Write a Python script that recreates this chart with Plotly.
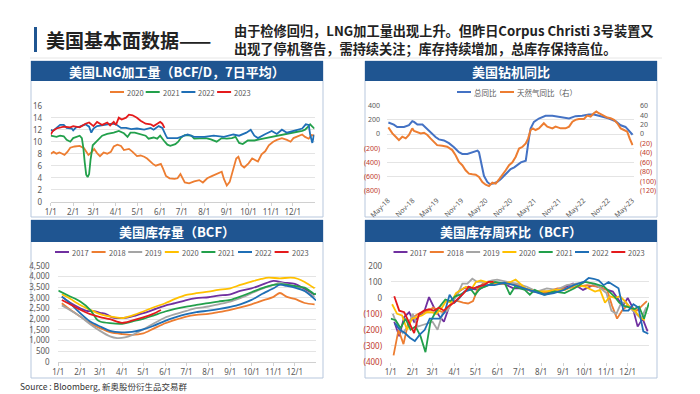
import plotly.graph_objects as go

# ===================== DATA =====================
month_tick_dates = ["2022-01-01", "2022-02-01", "2022-03-01", "2022-04-01", "2022-05-01", "2022-06-01",
                    "2022-07-01", "2022-08-01", "2022-09-01", "2022-10-01", "2022-11-01", "2022-12-01"]
month_tick_labels = ["1/1", "2/1", "3/1", "4/1", "5/1", "6/1", "7/1", "8/1", "9/1", "10/1", "11/1", "12/1"]

# ---- US LNG feedgas (BCF/D, 7d avg) ----
lng_names = ["2020", "2021", "2022", "2023"]
lng_colors = ["#ED7D31", "#22A04B", "#1F6FB6", "#E41A1C"]
lng_2020_dates = ["01-01", "01-05", "01-09", "01-13", "01-17", "01-20", "01-24", "01-28", "02-03", "02-10", "02-16",
                  "02-19", "02-22", "02-26", "03-02", "03-06", "03-10", "03-15", "03-20", "03-25", "03-29", "04-03",
                  "04-08", "04-12", "04-19", "04-24", "04-30", "05-05", "05-10", "05-14", "05-18", "05-22", "05-26",
                  "05-30", "06-02", "06-05", "06-09", "06-14", "06-21", "06-25", "06-29", "07-05", "07-11", "07-18",
                  "07-25", "07-30", "08-05", "08-12", "08-21", "08-25", "08-28", "09-01", "09-05", "09-10", "09-14",
                  "09-17", "09-21", "09-25", "10-01", "10-06", "10-10", "10-14", "10-19", "10-24", "10-29", "11-04",
                  "11-09", "11-16", "11-23", "11-28", "12-02", "12-07", "12-14", "12-18", "12-23", "12-27", "12-31"]
lng_2020_vals = [8.0, 8.3, 8.0, 8.2, 8.0, 7.8, 8.3, 9.0, 9.2, 9.3, 8.9,
                 8.4, 7.8, 8.2, 8.8, 8.1, 7.6, 8.2, 8.0, 8.3, 9.2, 9.5,
                 9.3, 8.6, 8.8, 8.3, 7.6, 7.7, 7.5, 7.2, 6.7, 6.3, 6.0,
                 6.2, 6.3, 5.5, 4.3, 3.9, 3.8, 3.9, 4.6, 3.2, 3.05, 3.4,
                 3.6, 3.2, 3.9, 4.3, 4.7, 5.0, 3.8, 2.7, 3.3, 5.3, 7.2,
                 7.5, 6.1, 5.7, 6.4, 7.2, 6.9, 6.7, 7.9, 8.4, 9.4, 10.0,
                 10.3, 10.6, 10.3, 10.0, 10.6, 10.8, 11.2, 10.8, 10.5, 11.1, 11.0]
lng_2021_dates = ["01-01", "01-05", "01-09", "01-14", "01-19", "01-23", "01-28", "02-01", "02-05", "02-10", "02-13",
                  "02-15", "02-17", "02-19", "02-21", "02-23", "02-25", "02-28", "03-05", "03-09", "03-13", "03-20",
                  "03-29", "04-05", "04-12", "04-17", "04-21", "04-27", "05-04", "05-12", "05-16", "05-23", "05-28",
                  "06-01", "06-06", "06-11", "06-15", "06-22", "06-26", "06-30", "07-05", "07-14", "07-18", "07-27",
                  "08-03", "08-10", "08-18", "08-25", "09-01", "09-08", "09-13", "09-18", "09-23", "09-30", "10-09",
                  "10-16", "10-24", "11-01", "11-07", "11-14", "11-21", "12-02", "12-09", "12-14", "12-18", "12-23",
                  "12-25", "12-28", "12-31"]
lng_2021_vals = [11.0, 10.9, 10.8, 11.0, 10.9, 10.3, 10.0, 10.6, 10.8, 11.0, 10.6,
                 9.0, 6.5, 4.5, 4.1, 4.6, 7.0, 9.4, 10.0, 10.5, 11.0, 11.3,
                 11.5, 11.8, 11.4, 10.8, 11.5, 11.5, 11.3, 11.0, 10.5, 10.7, 10.5,
                 11.0, 10.2, 9.5, 9.3, 9.6, 10.0, 10.7, 11.1, 11.0, 10.5, 10.6,
                 10.6, 10.4, 10.0, 10.6, 10.5, 10.6, 10.8, 9.8, 9.6, 10.2, 10.2,
                 10.4, 10.6, 10.8, 11.0, 11.2, 11.3, 11.6, 11.7, 11.8, 12.0, 12.6,
                 12.9, 12.5, 12.2]
lng_2022_dates = ["01-01", "01-04", "01-09", "01-14", "01-19", "01-23", "01-30", "02-01", "02-05", "02-10", "02-18",
                  "02-23", "02-26", "03-01", "03-06", "03-13", "03-20", "03-27", "04-01", "04-08", "04-15", "04-22",
                  "04-30", "05-10", "05-19", "05-23", "05-30", "06-04", "06-09", "06-11", "06-25", "06-30", "07-03",
                  "07-09", "07-18", "08-01", "08-14", "08-28", "09-10", "09-18", "09-28", "10-04", "10-09", "10-14",
                  "10-23", "11-02", "11-09", "11-16", "11-23", "12-01", "12-07", "12-14", "12-19", "12-23", "12-25",
                  "12-28", "12-30", "12-31"]
lng_2022_vals = [12.0, 11.8, 12.3, 12.8, 12.8, 12.3, 12.2, 11.9, 12.4, 12.5, 12.9,
                 12.5, 11.5, 12.2, 12.6, 12.7, 12.8, 13.0, 12.9, 12.3, 12.3, 12.1,
                 12.2, 12.0, 12.3, 12.0, 12.6, 12.3, 11.0, 10.6, 10.6, 10.8, 11.0,
                 11.2, 10.8, 10.8, 11.0, 10.8, 11.2, 11.0, 11.5, 12.0, 11.0, 10.6,
                 11.2, 11.8, 11.3, 12.0, 11.5, 11.8, 11.9, 12.2, 12.9, 12.8, 11.2,
                 9.8, 11.0, 11.0]
lng_2023_dates = ["01-01", "01-04", "01-09", "01-19", "01-28", "02-01", "02-10", "02-18", "02-23", "03-01", "03-06",
                  "03-13", "03-20", "03-24", "03-29", "04-01", "04-05", "04-09", "04-15", "04-19", "04-24", "04-30",
                  "05-05", "05-12", "05-19", "05-23", "05-28", "06-01", "06-04", "06-07"]
lng_2023_vals = [11.2, 11.8, 12.2, 12.5, 12.4, 12.6, 12.4, 13.0, 13.2, 12.6, 13.3,
                 12.8, 13.2, 12.7, 13.3, 12.8, 14.0, 13.7, 14.0, 14.5, 14.4, 14.0,
                 13.5, 13.0, 12.9, 12.6, 13.0, 13.3, 13.0, 12.3]

# ---- US rig count YoY ----
rig_names = ["总同比", "天然气同比（右）"]
rig_colors = ["#4472C4", "#ED7D31"]
rig_tick_dates = ["2018-05-01", "2018-11-01", "2019-05-01", "2019-11-01", "2020-05-01", "2020-11-01",
                  "2021-05-01", "2021-11-01", "2022-05-01", "2022-11-01", "2023-05-01"]
rig_tick_labels = ["May-18", "Nov-18", "May-19", "Nov-19", "May-20", "Nov-20",
                   "May-21", "Nov-21", "May-22", "Nov-22", "May-23"]
rig_total_dates = ["2018-05-04", "2018-06-14", "2018-07-09", "2018-08-29", "2018-10-05", "2018-10-30", "2018-11-12",
                   "2018-12-07", "2019-01-14", "2019-02-08", "2019-03-15", "2019-04-22", "2019-05-17", "2019-06-24",
                   "2019-07-31", "2019-09-07", "2019-10-14", "2019-11-08", "2019-12-16", "2020-01-10", "2020-02-04",
                   "2020-03-01", "2020-03-12", "2020-03-30", "2020-04-18", "2020-05-13", "2020-06-02", "2020-07-02",
                   "2020-07-27", "2020-08-21", "2020-09-16", "2020-10-10", "2020-11-04", "2020-12-01", "2020-12-20",
                   "2021-01-19", "2021-02-25", "2021-03-08", "2021-03-20", "2021-04-02", "2021-04-27", "2021-06-03",
                   "2021-07-23", "2021-09-12", "2021-11-01", "2021-12-20", "2022-01-15", "2022-03-04", "2022-04-23",
                   "2022-06-12", "2022-07-19", "2022-08-26", "2022-10-03", "2022-11-10", "2022-12-29", "2023-02-05",
                   "2023-03-13", "2023-04-07", "2023-05-05"]
rig_total_vals = [162, 133, 100, 100, 124, 181, 171,
                  133, 133, 86, 29, -43, -76, -90,
                  -128, -186, -257, -281, -281, -267, -248,
                  -233, -257, -447, -590, -676, -709, -695,
                  -676, -638, -590, -533, -495, -471, -447,
                  -400, -376, -257, -67, 76, 171, 219,
                  257, 257, 243, 229, 219, 252, 257,
                  276, 276, 257, 243, 219, 181, 124,
                  100, 52, -10]
rig_gas_dates = ["2018-05-04", "2018-06-03", "2018-06-28", "2018-07-22", "2018-08-16", "2018-09-11", "2018-10-05",
                 "2018-10-18", "2018-10-30", "2018-11-12", "2018-12-07", "2019-01-01", "2019-01-26", "2019-02-20",
                 "2019-03-15", "2019-04-10", "2019-05-04", "2019-06-11", "2019-07-18", "2019-08-25", "2019-09-19",
                 "2019-10-14", "2019-11-08", "2019-12-03", "2019-12-28", "2020-01-22", "2020-02-17", "2020-03-12",
                 "2020-04-06", "2020-05-01", "2020-05-26", "2020-06-20", "2020-07-15", "2020-08-09", "2020-09-03",
                 "2020-09-28", "2020-10-23", "2020-11-17", "2020-12-12", "2021-01-06", "2021-02-01", "2021-02-25",
                 "2021-03-15", "2021-04-02", "2021-04-19", "2021-05-09", "2021-06-03", "2021-06-28", "2021-07-10",
                 "2021-08-05", "2021-09-12", "2021-10-06", "2021-11-13", "2021-12-20", "2022-01-15", "2022-02-09",
                 "2022-03-04", "2022-03-29", "2022-05-06", "2022-05-31", "2022-06-25", "2022-07-19", "2022-08-07",
                 "2022-08-26", "2022-09-20", "2022-10-28", "2022-11-22", "2022-12-17", "2023-01-11", "2023-02-05",
                 "2023-03-02", "2023-03-26", "2023-04-13", "2023-05-05"]
rig_gas_vals = [14, 1.4, -5.7, -12.8, -5.7, -9.2, -2.1,
                5, 12, 6.4, 3.6, 1.4, 2.8, -2.1,
                -9.2, -16.4, -23.5, -24.9, -27, -34, -44.8,
                -59, -66, -76.8, -83.9, -85.3, -86, -91,
                -101.7, -107.4, -110.2, -103, -105, -96, -87.5,
                -76.8, -66, -60, -48, -30.6, -27, -20,
                -9.2, 8.5, 12, 8.5, 12, 19, 22.8,
                15.6, 12, 15.6, 12, 12, 15.6, 26,
                30, 32, 32, 39, 37, 44, 47.6,
                44, 40.5, 34.8, 33.4, 30, 22.8, 12,
                8.5, 5, -9.2, -23.5]
rig_left_ticks = [-800, -600, -400, -200, 0, 200, 400]
rig_left_labels = ["(800)", "(600)", "(400)", "(200)", "0", "200", "400"]
rig_right_ticks = [-120, -100, -80, -60, -40, -20, 0, 20, 40, 60]
rig_right_labels = ["(120)", "(100)", "(80)", "(60)", "(40)", "(20)", "0", "20", "40", "60"]

# ---- US storage (BCF) ----
stor_names = ["2017", "2018", "2019", "2020", "2021", "2022", "2023"]
stor_colors = ["#7030A0", "#ED7D31", "#A5A5A5", "#FFC000", "#22A04B", "#1F6FB6", "#E41A1C"]
stor_2017_dates = ["01-06", "01-15", "02-01", "02-10", "02-20", "03-01", "03-10", "03-18", "03-25", "04-01", "04-10",
                   "04-20", "05-01", "05-15", "06-01", "06-15", "07-01", "07-15", "08-01", "08-15", "09-01", "09-15",
                   "10-01", "10-15", "11-01", "11-15", "12-01", "12-15", "12-29"]
stor_2017_vals = [3060, 2830, 2515, 2390, 2380, 2300, 2230, 2080, 2050, 2050, 2080,
                  2170, 2280, 2440, 2640, 2750, 2900, 2985, 3030, 3110, 3170, 3330,
                  3450, 3610, 3800, 3720, 3660, 3420, 3150]
stor_2018_dates = ["01-06", "01-15", "02-01", "02-15", "03-01", "03-15", "04-01", "04-15", "05-01", "05-15", "06-01",
                   "06-15", "07-01", "07-15", "08-01", "08-15", "09-01", "09-15", "10-01", "10-15", "11-01", "11-10",
                   "11-20", "12-01", "12-15", "12-29"]
stor_2018_vals = [2750, 2515, 2125, 1810, 1580, 1390, 1300, 1260, 1330, 1545, 1810,
                  1970, 2125, 2200, 2250, 2330, 2440, 2550, 2700, 2860, 3050, 3230,
                  3050, 2950, 2760, 2700]
stor_2019_dates = ["01-06", "01-15", "02-01", "02-15", "03-01", "03-15", "03-25", "04-05", "04-15", "05-01", "05-15",
                   "06-01", "06-15", "07-01", "07-15", "08-01", "08-15", "09-01", "09-15", "10-01", "10-15", "11-01",
                   "11-10", "11-20", "12-01", "12-15", "12-29"]
stor_2019_vals = [2650, 2480, 2125, 1765, 1450, 1190, 1110, 1140, 1250, 1520, 1780,
                  2080, 2235, 2390, 2515, 2595, 2700, 2830, 2985, 3220, 3420, 3610,
                  3720, 3620, 3560, 3330, 3050]
stor_2020_dates = ["01-06", "01-15", "02-01", "02-15", "03-01", "03-15", "04-01", "04-15", "05-01", "05-15", "06-01",
                   "06-15", "07-01", "07-15", "08-01", "08-15", "09-01", "09-15", "10-01", "10-15", "10-25", "11-10",
                   "11-25", "12-05", "12-15", "12-29"]
stor_2020_vals = [3170, 3015, 2670, 2440, 2235, 2125, 2050, 2170, 2360, 2550, 2750,
                  2950, 3140, 3220, 3300, 3375, 3450, 3610, 3765, 3890, 3950, 3920,
                  3950, 3900, 3750, 3450]
stor_2021_dates = ["01-01", "01-15", "02-01", "02-15", "02-25", "03-01", "03-15", "04-01", "04-15", "05-01", "05-15",
                   "06-01", "06-15", "07-01", "07-15", "08-01", "08-15", "09-01", "09-15", "10-01", "10-15", "11-01",
                   "11-15", "12-01", "12-15", "12-29", "12-31"]
stor_2021_vals = [3345, 3110, 2830, 2440, 1970, 1890, 1810, 1780, 1890, 2015, 2170,
                  2360, 2480, 2595, 2670, 2750, 2830, 2905, 3060, 3265, 3450, 3610,
                  3640, 3560, 3480, 3180, 3200]
stor_2022_dates = ["01-06", "01-15", "02-01", "02-15", "03-01", "03-15", "04-01", "04-15", "05-01", "05-15", "06-01",
                   "06-15", "07-01", "07-15", "08-01", "08-15", "09-01", "09-15", "10-01", "10-15", "11-01", "11-10",
                   "11-20", "12-01", "12-15", "12-31"]
stor_2022_vals = [3060, 2830, 2280, 1890, 1655, 1450, 1380, 1400, 1520, 1680, 1920,
                  2080, 2235, 2330, 2400, 2470, 2580, 2700, 2905, 3170, 3450, 3620,
                  3560, 3480, 3320, 2880]
stor_2023_dates = ["01-06", "01-15", "02-01", "02-15", "03-01", "03-15", "04-01", "04-15", "05-01", "05-15", "05-26"]
stor_2023_vals = [2900, 2750, 2440, 2235, 2100, 2000, 1830, 1930, 2080, 2250, 2430]

# ---- US storage weekly change (BCF) ----
wk_2017_dates = ["01-06", "01-13", "01-20", "01-27", "02-03", "02-10", "02-17", "02-24", "03-03", "03-10", "03-17",
                 "03-24", "03-31", "04-07", "04-14", "04-21", "04-28", "05-05", "05-12", "05-19", "05-26", "06-09",
                 "06-23", "07-07", "07-21", "08-04", "08-18", "09-01", "09-15", "09-29", "10-13", "10-27", "11-10",
                 "11-24", "12-01", "12-08", "12-15", "12-22", "12-29"]
wk_2017_vals = [-150, -240, -120, -90, -150, -110, -90, 5, -60, -110, -150,
                -60, -10, 40, 60, 70, 55, 50, 70, 80, 90, 90,
                60, 60, 40, 30, 40, 60, 90, 50, 80, 60, 40,
                -50, 0, -60, -180, -130, -210]
wk_2018_dates = ["01-05", "01-12", "01-19", "01-26", "02-02", "02-09", "02-16", "02-23", "03-02", "03-09", "03-16",
                 "03-23", "03-30", "04-06", "04-13", "04-20", "04-27", "05-04", "05-11", "05-18", "06-01", "06-15",
                 "06-29", "07-13", "07-27", "08-10", "08-24", "09-07", "09-21", "10-05", "10-19", "11-02", "11-09",
                 "11-16", "11-23", "11-30", "12-07", "12-14", "12-21", "12-28"]
wk_2018_vals = [-360, -200, -290, -150, -120, -100, -90, -80, -60, -80, -90,
                -70, -20, -20, -30, -35, -20, 60, 90, 100, 90, 90,
                80, 50, 40, 40, 60, 60, 70, 80, 70, 50, -50,
                -130, -80, -50, -60, -80, -50, -20]
wk_2019_dates = ["01-04", "01-11", "01-18", "01-25", "02-01", "02-08", "02-15", "02-22", "03-01", "03-08", "03-15",
                 "03-22", "03-29", "04-05", "04-12", "04-19", "04-26", "05-03", "05-10", "05-17", "05-24", "05-31",
                 "06-14", "06-28", "07-12", "07-26", "08-09", "08-23", "09-06", "09-20", "10-04", "10-18", "11-01",
                 "11-08", "11-15", "11-22", "11-29", "12-06", "12-13", "12-20", "12-27"]
wk_2019_vals = [-100, -180, -220, -180, -100, -180, -170, -160, -150, -200, -100,
                -80, -20, 20, 90, 90, 120, 100, 100, 100, 110, 115,
                100, 90, 70, 40, 60, 50, 80, 90, 100, 80, 30,
                -80, -100, -30, -30, -70, -100, -130, -60]
wk_2020_dates = ["01-03", "01-10", "01-17", "01-24", "01-31", "02-07", "02-14", "02-21", "02-28", "03-06", "03-13",
                 "03-20", "03-27", "04-03", "04-10", "04-17", "04-24", "05-01", "05-08", "05-15", "05-22", "06-05",
                 "06-19", "06-26", "07-10", "07-24", "08-07", "08-21", "09-04", "09-18", "10-02", "10-16", "10-23",
                 "10-30", "11-06", "11-13", "11-20", "11-27", "12-04", "12-11", "12-18", "12-25"]
wk_2020_vals = [-40, -100, -110, -200, -130, -120, -110, -90, -90, -100, -70,
                -20, -30, 30, 50, 70, 50, 100, 110, 100, 100, 90,
                100, 115, 60, 40, 40, 50, 50, 80, 70, 40, 50,
                -30, 10, 0, 10, -20, -60, -80, -120, -140]
wk_2021_dates = ["01-01", "01-08", "01-15", "01-22", "01-29", "02-05", "02-12", "02-19", "02-26", "03-05", "03-12",
                 "03-19", "03-26", "04-02", "04-09", "04-16", "04-23", "04-30", "05-07", "05-14", "05-28", "06-11",
                 "06-18", "06-25", "07-09", "07-16", "07-23", "08-06", "08-20", "09-03", "09-17", "10-01", "10-15",
                 "10-29", "11-05", "11-12", "11-19", "11-26", "12-03", "12-10", "12-17", "12-24", "12-31"]
wk_2021_vals = [-130, -140, -190, -130, -200, -180, -240, -340, -150, -90, -50,
                -10, -20, 10, 20, 40, 60, 20, 60, 70, 100, 90,
                20, 70, 50, 20, 50, 20, 40, 30, 60, 100, 90,
                70, 40, 10, -30, -50, -60, -70, -55, -130, -30]
wk_2022_dates = ["01-07", "01-14", "01-21", "01-28", "02-04", "02-11", "02-18", "02-25", "03-04", "03-11", "03-18",
                 "03-25", "04-01", "04-08", "04-15", "04-22", "04-29", "05-06", "05-13", "05-27", "06-10", "06-24",
                 "07-08", "07-22", "08-05", "08-19", "09-02", "09-16", "09-23", "09-30", "10-07", "10-14", "10-21",
                 "10-28", "11-04", "11-11", "11-18", "11-25", "12-02", "12-09", "12-16", "12-23", "12-30"]
wk_2022_vals = [-160, -200, -220, -250, -270, -230, -200, -130, -130, -130, -90,
                20, -30, 0, 40, 50, 60, 75, 80, 80, 95, 80,
                60, 40, 20, 30, 50, 80, 90, 100, 125, 120, 110,
                80, 100, 80, 60, -80, -80, -40, -60, -210, -225]
wk_2023_dates = ["01-06", "01-13", "01-20", "01-27", "02-03", "02-10", "02-17", "02-24", "03-03", "03-10", "03-17",
                 "03-24", "03-31", "04-07", "04-14", "04-21", "04-28", "05-05", "05-12", "05-19", "05-26"]
wk_2023_vals = [10, -80, -90, -150, -220, -100, -80, -70, -80, -60, -80,
                -50, -30, 0, 30, 70, 60, 70, 80, 100, 100]
wk_ticks = [-400, -300, -200, -100, 0, 100, 200]
wk_labels = ["(400)", "(300)", "(200)", "(100)", "0", "100", "200"]

# ===================== STYLE / LAYOUT =====================
W, H = 700, 394
def fx(x):
    return x / W
def fy(y):
    return 1 - y / H

BAR = "#1F5591"
TICKC = "#595959"
NEG = "#C0392B"
GRID = "#E4E4E4"
FNT = "Noto Sans, Liberation Sans, sans-serif"
CJK = "Noto Sans CJK SC, Noto Sans, sans-serif"

def red_neg(labels):
    return [f'<span style="color:{NEG}">{t}</span>' if t.startswith("(") else t for t in labels]

def d22(dates):
    return ["2022-" + d for d in dates]

fig = go.Figure()

# ---- panel 1: LNG ----
for name, color, dts, vals in zip(lng_names, lng_colors,
                                  [lng_2020_dates, lng_2021_dates, lng_2022_dates, lng_2023_dates],
                                  [lng_2020_vals, lng_2021_vals, lng_2022_vals, lng_2023_vals]):
    fig.add_trace(go.Scatter(x=d22(dts), y=vals, mode="lines", name=name, xaxis="x", yaxis="y",
                             line=dict(color=color, width=1.8), showlegend=False))

# ---- panel 2: rigs ----
fig.add_trace(go.Scatter(x=rig_total_dates, y=rig_total_vals, mode="lines", name=rig_names[0],
                         xaxis="x2", yaxis="y2", line=dict(color=rig_colors[0], width=2), showlegend=False))
fig.add_trace(go.Scatter(x=rig_gas_dates, y=rig_gas_vals, mode="lines", name=rig_names[1],
                         xaxis="x2", yaxis="y5", line=dict(color=rig_colors[1], width=2), showlegend=False))

# ---- panel 3: storage ----
stor_dates = [stor_2017_dates, stor_2018_dates, stor_2019_dates, stor_2020_dates, stor_2021_dates,
              stor_2022_dates, stor_2023_dates]
stor_vals = [stor_2017_vals, stor_2018_vals, stor_2019_vals, stor_2020_vals, stor_2021_vals,
             stor_2022_vals, stor_2023_vals]
for name, color, dts, vals in zip(stor_names, stor_colors, stor_dates, stor_vals):
    fig.add_trace(go.Scatter(x=d22(dts), y=vals, mode="lines", name=name, xaxis="x3", yaxis="y3",
                             line=dict(color=color, width=1.8, shape="spline", smoothing=0.8), showlegend=False))

# ---- panel 4: weekly change ----
wk_dates = [wk_2017_dates, wk_2018_dates, wk_2019_dates, wk_2020_dates, wk_2021_dates, wk_2022_dates, wk_2023_dates]
wk_vals = [wk_2017_vals, wk_2018_vals, wk_2019_vals, wk_2020_vals, wk_2021_vals, wk_2022_vals, wk_2023_vals]
for name, color, dts, vals in zip(stor_names, stor_colors, wk_dates, wk_vals):
    fig.add_trace(go.Scatter(x=d22(dts), y=vals, mode="lines", name=name, xaxis="x4", yaxis="y4",
                             line=dict(color=color, width=1.8), showlegend=False))

tickfont = dict(family=FNT, size=8, color=TICKC)
smallfont = dict(family=FNT, size=7, color=TICKC)
xcommon = dict(type="date", showgrid=False, tickfont=tickfont, ticks="outside", ticklen=3, automargin=False,
               tickcolor="#D0D0D0", showline=True, linecolor="#D0D0D0", linewidth=1, zeroline=False)
ycommon = dict(showgrid=True, gridcolor=GRID, gridwidth=0.8, zeroline=False, tickfont=tickfont, automargin=False,
               ticks="outside", ticklen=6, tickcolor="rgba(0,0,0,0)", showline=False)

fig.update_layout(
    width=W, height=H, margin=dict(l=0, r=0, t=0, b=0),
    paper_bgcolor="white", plot_bgcolor="white", showlegend=False,
    font=dict(family=FNT, size=8, color=TICKC),
    xaxis=dict(xcommon, domain=[fx(50.7), fx(314.5)], anchor="y",
               range=["2022-01-01", "2022-12-31"], tickvals=month_tick_dates, ticktext=month_tick_labels),
    yaxis=dict(ycommon, domain=[fy(201.7), fy(105.7)], anchor="x", range=[0, 16], dtick=2),
    xaxis2=dict(xcommon, domain=[fx(386.5), fx(633.5)], anchor="y2", showline=False, ticklen=2,
                tickcolor="rgba(0,0,0,0)", tickfont=smallfont,
                range=["2018-04-20", "2023-05-12"], tickvals=rig_tick_dates, ticktext=rig_tick_labels,
                tickangle=-45),
    yaxis2=dict(ycommon, domain=[fy(190.7), fy(105.7)], anchor="x2", range=[-800, 400], tickfont=smallfont,
                ticklen=4, tickvals=rig_left_ticks, ticktext=red_neg(rig_left_labels)),
    yaxis5=dict(ycommon, overlaying="y2", side="right", anchor="x2", range=[-120, 60], showgrid=False,
                tickfont=smallfont, ticklen=4,
                tickvals=rig_right_ticks, ticktext=red_neg(rig_right_labels)),
    xaxis3=dict(xcommon, domain=[fx(58.3), fx(316)], anchor="y3",
                range=["2022-01-01", "2022-12-31"], tickvals=month_tick_dates, ticktext=month_tick_labels),
    yaxis3=dict(ycommon, domain=[fy(361.7), fy(266)], anchor="x3", range=[0, 4500], dtick=500,
                tickformat=",d"),
    xaxis4=dict(xcommon, domain=[fx(390.7), fx(649)], anchor="y4", showline=False,
                range=["2022-01-01", "2022-12-31"], tickvals=month_tick_dates, ticktext=month_tick_labels),
    yaxis4=dict(ycommon, domain=[fy(361.7), fy(266)], anchor="x4", range=[-400, 200],
                tickvals=wk_ticks, ticktext=red_neg(wk_labels)),
)

shapes = []
annos = []

# header
shapes.append(dict(type="rect", xref="paper", yref="paper", x0=fx(34), x1=fx(37), y0=fy(52), y1=fy(27),
                   fillcolor=BAR, line=dict(width=0)))
shapes.append(dict(type="line", xref="paper", yref="paper", x0=fx(30), x1=fx(662), y0=fy(58), y1=fy(58),
                   line=dict(color="#E6E6E6", width=1)))
annos.append(dict(text="<b>美国基本面数据——</b>", x=fx(44), y=fy(40), xref="paper", yref="paper",
                  xanchor="left", yanchor="middle", showarrow=False,
                  font=dict(family=CJK, size=19, color="#222222")))
annos.append(dict(text="<b>由于检修回归，LNG加工量出现上升。但昨日Corpus Christi 3号装置又</b>", x=fx(232), y=fy(30),
                  xref="paper", yref="paper", xanchor="left", yanchor="middle", showarrow=False,
                  font=dict(family=CJK, size=13.2, color="#222222")))
annos.append(dict(text="<b>出现了停机警告，需持续关注；库存持续增加，总库存保持高位。</b>", x=fx(232), y=fy(49),
                  xref="paper", yref="paper", xanchor="left", yanchor="middle", showarrow=False,
                  font=dict(family=CJK, size=13.2, color="#222222")))

# panels
panels = [
    (31, 323, 61, 217, 81, "美国LNG加工量（BCF/D，7日平均）"),
    (365, 657, 61, 217, 81, "美国钻机同比"),
    (31, 323, 220, 378, 242, "美国库存量（BCF）"),
    (365, 657, 220, 378, 242, "美国库存周环比（BCF）"),
]
for x0, x1, y0, y1, ybar, title in panels:
    shapes.append(dict(type="rect", xref="paper", yref="paper", x0=fx(x0), x1=fx(x1), y0=fy(y1), y1=fy(y0),
                       line=dict(color="#B7C7DD", width=1), fillcolor="rgba(0,0,0,0)", layer="below"))
    shapes.append(dict(type="rect", xref="paper", yref="paper", x0=fx(x0), x1=fx(x1), y0=fy(ybar), y1=fy(y0),
                       line=dict(width=0), fillcolor=BAR))
    annos.append(dict(text="<b>" + title + "</b>", x=fx((x0 + x1) / 2), y=fy((y0 + ybar) / 2 + 0.5),
                      xref="paper", yref="paper", xanchor="center", yanchor="middle", showarrow=False,
                      font=dict(family=CJK, size=13, color="white")))

# manual legends
def add_legend(names, colors, starts, y, text_gap=2, line_len=14):
    for n, c, s in zip(names, colors, starts):
        shapes.append(dict(type="line", xref="paper", yref="paper", x0=fx(s), x1=fx(s + line_len),
                           y0=fy(y), y1=fy(y), line=dict(color=c, width=2)))
        annos.append(dict(text=n, x=fx(s + line_len + text_gap), y=fy(y), xref="paper", yref="paper",
                          xanchor="left", yanchor="middle", showarrow=False,
                          font=dict(family=CJK, size=7.5, color=TICKC)))

add_legend(lng_names, lng_colors, [110 + 35.7 * i for i in range(4)], 92, text_gap=1)
add_legend(rig_names, rig_colors, [457, 500], 92, text_gap=1)
add_legend(stor_names, stor_colors, [55 + 36.6 * i for i in range(7)], 252, text_gap=1)
add_legend(stor_names, stor_colors, [393.5 + 36.3 * i for i in range(7)], 252, text_gap=1)

annos.append(dict(text="Source : Bloomberg, 新奥股份衍生品交易群", x=fx(18), y=fy(385.5), xref="paper", yref="paper",
                  xanchor="left", yanchor="middle", showarrow=False,
                  font=dict(family=CJK, size=8.5, color="#333333")))

fig.update_layout(shapes=shapes, annotations=annos)
fig.write_html("out.html", config={"displayModeBar": False},
               post_script="document.body.style.margin='0px';document.body.style.overflow='hidden';")
